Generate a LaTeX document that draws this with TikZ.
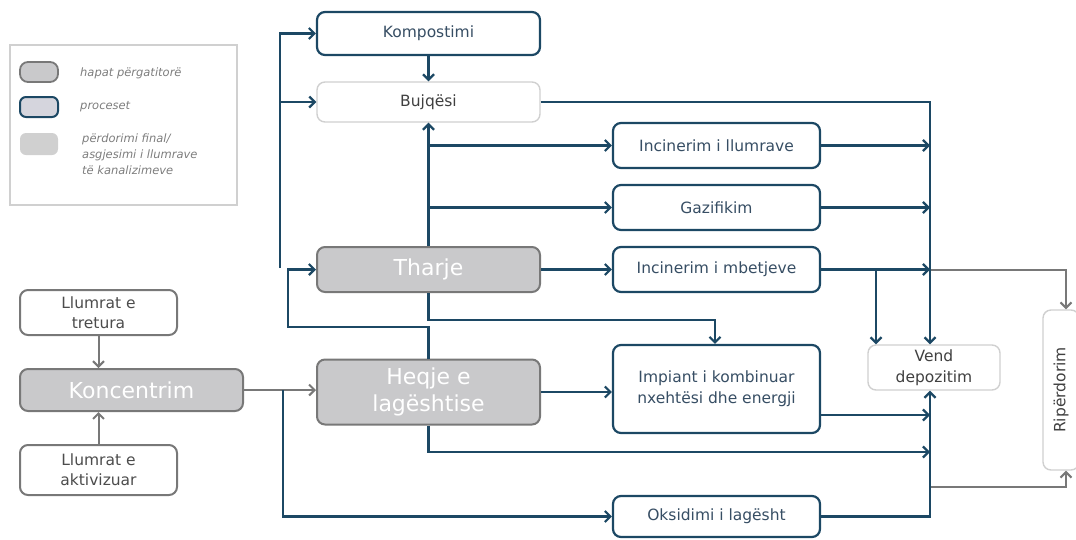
\documentclass[tikz,border=0pt]{standalone}
\usepackage{fontspec}
\usepackage{graphicx}
\setmainfont{DejaVu Sans}
\usetikzlibrary{arrows.meta}
\definecolor{procblue}{RGB}{28,72,100}
\definecolor{proctext}{RGB}{55,78,100}
\definecolor{prepfill}{RGB}{201,201,203}
\definecolor{prepdraw}{RGB}{120,120,120}
\definecolor{finaldraw}{RGB}{208,208,208}
\definecolor{legtext}{RGB}{125,125,125}
\begin{document}
\begin{tikzpicture}[x=1pt,y=-1pt,
    >={Straight Barb[length=5.5pt,width=11pt]},
    proc/.style={draw=procblue, line width=2.2pt, rounded corners=8pt, fill=white,
        text=proctext, align=center, font=\fontsize{15.5}{21}\selectfont,
        minimum width=207pt, minimum height=45pt, inner sep=2pt},
    prep/.style={draw=prepdraw, line width=2pt, rounded corners=8pt, fill=prepfill,
        text=white, align=center, font=\fontsize{22}{27}\selectfont,
        minimum width=223pt, minimum height=45pt, inner sep=2pt},
    final/.style={draw=finaldraw, line width=1.4pt, rounded corners=8pt, fill=white,
        text=black!75, align=center, font=\fontsize{15.5}{21}\selectfont, inner sep=2pt},
    src/.style={draw=prepdraw, line width=2pt, rounded corners=8pt, fill=white,
        text=black!70, align=center, font=\fontsize{15.5}{20}\selectfont,
        minimum width=157pt, minimum height=45pt, inner sep=2pt},
    bline/.style={draw=procblue, line width=2.2pt, ->},
    gline/.style={draw=prepdraw, line width=2pt, ->},
    legtxt/.style={text=legtext, font=\fontsize{11.5}{16}\selectfont\itshape, align=left, inner sep=0pt}]
    \useasboundingbox (0,0) rectangle (1076,539);
    % Legjenda
    \node[draw=finaldraw, line width=1.2pt, minimum width=227pt, minimum height=160pt, inner sep=0pt]
        (legjenda) at (123.5,125) {};
    \node[prep, minimum width=38pt, minimum height=20pt, line width=1.8pt] (lg1) at (39,72) {};
    \node[draw=procblue, line width=2pt, rounded corners=6pt, fill=blue!10!gray!30,
        minimum width=38pt, minimum height=20pt, inner sep=0pt] (lg2) at (39,107) {};
    \node[fill=finaldraw, rounded corners=6pt, minimum width=38pt, minimum height=22pt,
        inner sep=0pt] (lg3) at (39,144) {};
    \node[legtxt, anchor=west] (lgt1) at (80,73) {hapat përgatitorë};
    \node[legtxt, anchor=west] (lgt2) at (80,107) {proceset};
    \node[legtxt, anchor=north west] (lgt3) at (82,134) {përdorimi final/\\asgjesimi i llumrave\\të kanalizimeve};
    % Hapat
    \node[src] (tret) at (98.5,312.5) {Llumrat e\\tretura};
    \node[prep, minimum height=42pt] (konc) at (131.5,390) {Koncentrim};
    \node[src, minimum height=50pt] (aktiv) at (98.5,470) {Llumrat e\\aktivizuar};
    \node[prep] (tharje) at (428.5,269.5) {Tharje};
    \node[prep, minimum height=65pt] (heqje) at (428.5,392) {Heqje e\\lagështise};
    % Proceset
    \node[proc, minimum width=223pt, minimum height=43pt] (komp) at (428.5,33.5) {Kompostimi};
    \node[final, minimum width=223pt, minimum height=40pt] (bujq) at (428.5,102) {Bujqësi};
    \node[proc] (incl) at (716.5,145.5) {Incinerim i llumrave};
    \node[proc] (gaz) at (716.5,207.5) {Gazifikim};
    \node[proc] (incm) at (716.5,269.5) {Incinerim i mbetjeve};
    \node[proc, minimum height=88pt] (impiant) at (716.5,389) {Impiant i kombinuar\\nxehtësi dhe energji};
    \node[proc, minimum height=41pt] (oks) at (716.5,516.5) {Oksidimi i lagësht};
    \node[final, minimum width=132pt, minimum height=45pt] (vend) at (934,367.5) {Vend\\depozitim};
    \node[final, minimum width=36pt, minimum height=160pt] (riper) at (1061,390)
        {\rotatebox{90}{Ripërdorim}};
    % Pikat ndihmese
    \coordinate (tr) at (930,0);
    \coordinate (rx) at (1066,0);
    \coordinate (s1) at (283,390);
    \coordinate (v0) at (280,268);
    \coordinate (c1) at (288,327);
    \coordinate (c2) at (715,320);
    \coordinate (c4) at (930,452);
    \coordinate (b1) at (876,269.5);
    \coordinate (g2) at (930,487);
    \coordinate (i1) at ([yshift=-26pt]impiant.east);
    % Lidhjet gri
    \draw[gline] (tret.south) -- (tret.south |- konc.north);
    \draw[gline] (aktiv.north) -- (aktiv.north |- konc.south);
    \draw[gline] (konc.east) -- (konc.east -| heqje.west);
    \draw[gline] (incm.east -| tr) -| (rx |- riper.north);
    \draw[gline] (g2) -| (rx |- riper.south);
    % Lidhjet blu
    \draw[bline] (s1) |- (oks.west);
    \draw[bline] (v0) |- (komp.west);
    \draw[bline] (v0 |- bujq.west) -- (bujq.west);
    \draw[bline] (komp.south) -- (bujq.north);
    \draw[bline] (heqje.north) |- (c1) |- (tharje.west);
    \draw[bline] (tharje.north) -- (bujq.south);
    \draw[bline] (tharje.north |- incl.west) -- (incl.west);
    \draw[bline] (tharje.north |- gaz.west) -- (gaz.west);
    \draw[bline] (tharje.east) -- (incm.west);
    \draw[bline] (tharje.south) |- (c2) -- (c2 |- impiant.north);
    \draw[bline] (heqje.east) -- (heqje.east -| impiant.west);
    \draw[bline] (heqje.south) |- (c4);
    \draw[bline] (bujq.east) -| (tr |- vend.north);
    \draw[bline] (incl.east) -- (incl.east -| tr);
    \draw[bline] (gaz.east) -- (gaz.east -| tr);
    \draw[bline] (incm.east) -- (incm.east -| tr);
    \draw[bline] (b1) -- (b1 |- vend.north);
    \draw[bline] (i1) -- (i1 -| tr);
    \draw[bline] (oks.east) -| (tr |- vend.south);
\end{tikzpicture}
\end{document}
